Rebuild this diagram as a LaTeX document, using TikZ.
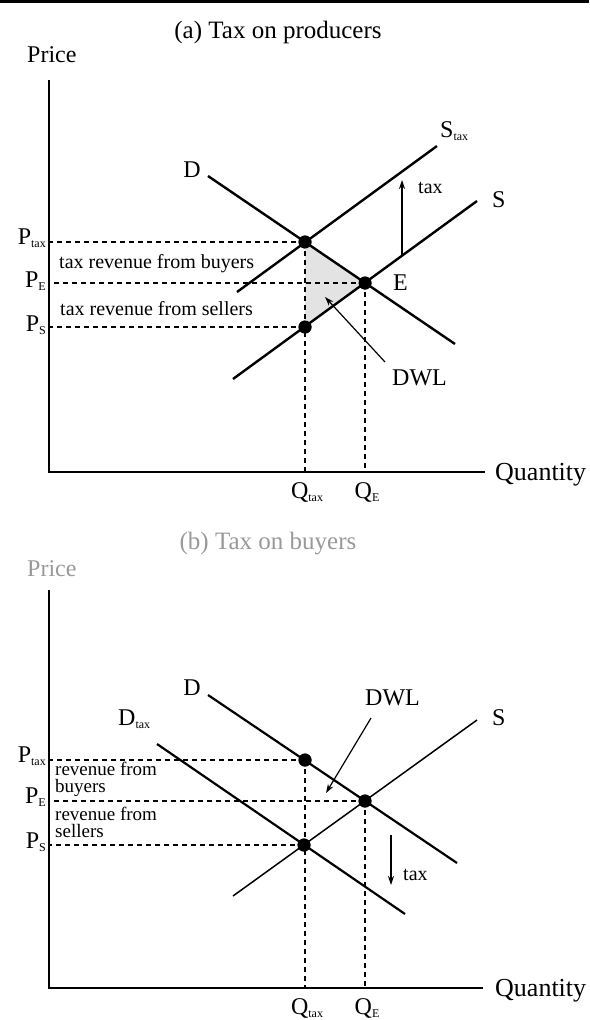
\documentclass[tikz,border=0pt]{standalone}
\usepackage{fontspec}
\setmainfont{Liberation Serif}
\usetikzlibrary{arrows.meta}
\newcommand{\sbx}[1]{\raisebox{-3.5pt}{\fontsize{12}{12}\selectfont #1}}
\begin{document}
\begin{tikzpicture}[x=1pt,y=-1pt,
  axis/.style={line width=1.4pt},
  curve/.style={line width=2.4pt},
  thincurve/.style={line width=1.5pt},
  guide/.style={line width=1.3pt, dash pattern=on 5pt off 4pt},
  dot/.style={circle, fill=black, inner sep=0pt, minimum size=13pt},
  lbl/.style={font=\fontsize{24}{24}\selectfont, inner sep=0pt},
  txt/.style={font=\fontsize{20}{20}\selectfont, inner sep=0pt},
  smalltxt/.style={font=\fontsize{19}{17}\selectfont, inner sep=0pt, align=left},
  faint/.style={text=black!40},
  arr/.style={line width=1.2pt, -{Stealth[length=9pt,width=6pt]}},
]
\useasboundingbox (0,0) rectangle (589,1020);
\draw[line width=3pt] (0,1.5) -- (589,1.5);

% ================= panel (a) =================
\node[font=\fontsize{25}{25}\selectfont, inner sep=0pt, anchor=base] (ta) at (278,38) {(a) Tax on producers};
\node[lbl, anchor=base west] (pricea) at (27,62) {Price};
\coordinate (ytopa) at (49,80);
\coordinate (Oa) at (49,472);
\coordinate (xenda) at (485,472);
\draw[axis] (ytopa) -- (Oa) -- (xenda);
\node[font=\fontsize{26}{26}\selectfont, inner sep=0pt, anchor=base west] (qa) at (495,480) {Quantity};

\coordinate (d1a) at (208,176);
\coordinate (d2a) at (455,344);
\coordinate (s1a) at (233,379);
\coordinate (s2a) at (477,201);
\coordinate (t1a) at (237,292);
\coordinate (t2a) at (437,146);

\node[dot] (A) at (305,242) {};
\node[dot] (E) at (365,283) {};
\node[dot] (B) at (305,327) {};

\fill[black!11] (A.center) -- (B.center) -- (E.center) -- cycle;

\draw[guide] (A.center) -- (A.center -| Oa);
\draw[guide] (E.center) -- (E.center -| Oa);
\draw[guide] (B.center) -- (B.center -| Oa);
\draw[guide] (A.center) -- (A.center |- Oa);
\draw[guide] (E.center) -- (E.center |- Oa);

\draw[curve] (d1a) -- (d2a);
\draw[curve] (s1a) -- (s2a);
\draw[curve] (t1a) -- (t2a);
\node[dot] at (A) {};
\node[dot] at (E) {};
\node[dot] at (B) {};

\node[lbl, anchor=base] (Dla) at (192,177) {D};
\node[lbl, anchor=base west] (Sla) at (492,207) {S};
\node[lbl, anchor=base west] (Stla) at (440,137) {S\sbx{tax}};
\node[lbl, anchor=base west] (Ela) at (393,290) {E};

\coordinate (taxfa) at (402,256);
\coordinate (taxta) at (402,180);
\draw[arr] (taxfa) -- (taxta);
\node[txt, anchor=base west] (taxla) at (418,193) {tax};

\node[lbl, anchor=base west] (DWLa) at (392,385) {DWL};
\coordinate (dwlfa) at (385,362);
\coordinate (dwlta) at (325,297);
\draw[arr] (dwlfa) -- (dwlta);

\node[lbl, anchor=base east] (Ptaxa) at (46,244) {P\sbx{tax}};
\node[lbl, anchor=base east] (PEa) at (46,287) {P\sbx{E}};
\node[lbl, anchor=base east] (PSa) at (46,331) {P\sbx{S}};
\node[txt, anchor=base west] (revba) at (59,268) {tax revenue from buyers};
\node[txt, anchor=base west] (revsa) at (60,315) {tax revenue from sellers};

\node[lbl, anchor=base] (Qtaxa) at (307,498) {Q\sbx{tax}};
\node[lbl, anchor=base] (QEa) at (367,498) {Q\sbx{E}};

% ================= panel (b) =================
\node[font=\fontsize{25}{25}\selectfont, inner sep=0pt, anchor=base, faint] (tb) at (268,549) {(b) Tax on buyers};
\node[lbl, anchor=base west, faint] (priceb) at (27,576) {Price};
\coordinate (ytopb) at (49,590);
\coordinate (Ob) at (49,988);
\coordinate (xendb) at (483,988);
\draw[axis] (ytopb) -- (Ob) -- (xendb);
\node[font=\fontsize{26}{26}\selectfont, inner sep=0pt, anchor=base west] (qb) at (495,996) {Quantity};

\coordinate (d1b) at (208,695);
\coordinate (d2b) at (457,863);
\coordinate (s1b) at (233,896);
\coordinate (s2b) at (477,720);
\coordinate (dt1b) at (157,744);
\coordinate (dt2b) at (405,914);

\node[dot] (A2) at (305,760) {};
\node[dot] (E2) at (365,801) {};
\node[dot] (B2) at (304,845) {};

\draw[guide] (A2.center) -- (A2.center -| Ob);
\draw[guide] (E2.center) -- (E2.center -| Ob);
\draw[guide] (B2.center) -- (B2.center -| Ob);
\draw[guide] (A2.center) -- (A2.center |- Ob);
\draw[guide] (E2.center) -- (E2.center |- Ob);

\draw[curve, line width=2.2pt] (d1b) -- (d2b);
\draw[curve, line width=2.2pt] (dt1b) -- (dt2b);
\draw[thincurve] (s1b) -- (s2b);
\node[dot] at (A2) {};
\node[dot] at (E2) {};
\node[dot] at (B2) {};

\node[lbl, anchor=base] (Dlb) at (192,695) {D};
\node[lbl, anchor=base west] (Dtlb) at (118,725) {D\sbx{tax}};
\node[lbl, anchor=base west] (Slb) at (492,725) {S};

\node[lbl, anchor=base west] (DWLb) at (365,705) {DWL};
\coordinate (dwlfb) at (371,718);
\coordinate (dwltb) at (326,793);
\draw[arr] (dwlfb) -- (dwltb);

\coordinate (taxfb) at (391,835);
\coordinate (taxtb) at (391,885);
\draw[arr] (taxfb) -- (taxtb);
\node[txt, anchor=base west] (taxlb) at (403,880) {tax};

\node[lbl, anchor=base east] (Ptaxb) at (46,762) {P\sbx{tax}};
\node[lbl, anchor=base east] (PEb) at (46,803) {P\sbx{E}};
\node[lbl, anchor=base east] (PSb) at (46,848) {P\sbx{S}};
\node[smalltxt, anchor=base west] (revbb) at (55,792) {revenue from\\buyers};
\node[smalltxt, anchor=base west] (revsb) at (55,837) {revenue from\\sellers};

\node[lbl, anchor=base] (Qtaxb) at (307,1014) {Q\sbx{tax}};
\node[lbl, anchor=base] (QEb) at (367,1014) {Q\sbx{E}};
\end{tikzpicture}
\end{document}
